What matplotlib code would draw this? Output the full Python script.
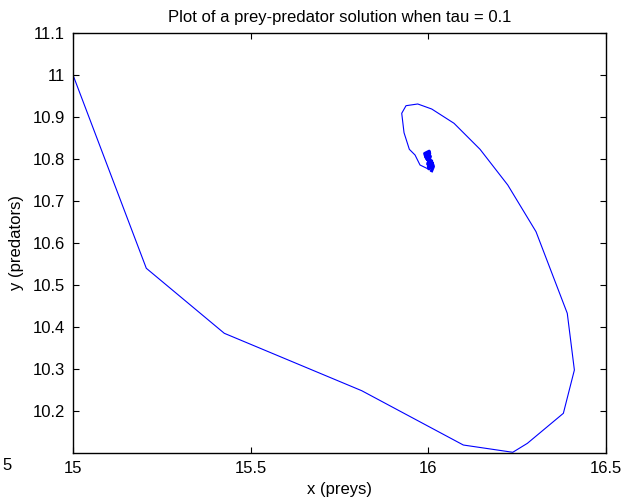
import matplotlib
matplotlib.use("Agg")
import matplotlib.pyplot as plt

# Trajectory of prey (x) and predators (y)
x_preys = [15.0, 15.2063, 15.4258, 15.8126, 16.0985, 16.2376, 16.2787, 16.380, 16.411,
           16.391, 16.303, 16.2235, 16.1455, 16.0723, 16.0096, 15.9702, 15.9372, 15.9251,
           15.9316, 15.9465, 15.9626, 15.9766, 16.0096]
y_predators = [11.0, 10.5398, 10.385, 10.2483, 10.119, 10.1017, 10.123, 10.1945, 10.2976,
               10.4326, 10.627, 10.7381, 10.8231, 10.885, 10.919, 10.931, 10.9269, 10.9088,
               10.8626, 10.8231, 10.8095, 10.7857, 10.7721]

# Dense oscillation near the equilibrium (the thick blob)
x_blob = [16.0096, 16.0144, 15.9896, 16.0025, 16.0015, 16.0130, 15.9910, 16.0038, 16.0001,
          16.0115, 15.9924, 16.0059, 15.9980, 16.0094, 15.9952, 16.0020]
y_blob = [10.7721, 10.7821, 10.8131, 10.8186, 10.7767, 10.7864, 10.8088, 10.8143, 10.7810,
          10.7907, 10.8045, 10.8062, 10.7879, 10.7955, 10.8005, 10.7964]

x_ticks = [15, 15.5, 16, 16.5]
x_tick_labels = ["15", "15.5", "16", "16.5"]
y_ticks = [10.2, 10.3, 10.4, 10.5, 10.6, 10.7, 10.8, 10.9, 11.0, 11.1]
y_tick_labels = ["10.2", "10.3", "10.4", "10.5", "10.6", "10.7", "10.8", "10.9", "11", "11.1"]

plt.rcParams['font.family'] = ['Liberation Sans', 'DejaVu Sans']

W, H = 636, 504
fig = plt.figure(figsize=(W / 100, H / 100), dpi=100)
left, right, top, bottom = 73, 606, 33, 453
ax = fig.add_axes([left / W, 1 - bottom / H, (right - left) / W, (bottom - top) / H])

ax.plot(x_preys, y_predators, color=(0, 0, 1), linewidth=0.8)
ax.plot(x_blob, y_blob, color=(0, 0, 1), linewidth=2.2, solid_joinstyle='round')
ax.set_xlim(15, 16.5)
ax.set_ylim(10.1, 11.1)
ax.set_xticks(x_ticks)
ax.set_xticklabels(x_tick_labels)
ax.set_yticks(y_ticks)
ax.set_yticklabels(y_tick_labels)
ax.tick_params(direction='in', length=4, width=0.8, top=True, right=True,
               labelsize=12, pad=6, colors='black')
for s in ax.spines.values():
    s.set_linewidth(1.0)

ax.set_title("Plot of a prey-predator solution when tau = 0.1", fontsize=12, pad=8)
ax.set_xlabel("x (preys)", fontsize=12, labelpad=4)
ax.set_ylabel("y (predators)", fontsize=12, labelpad=6)

# stray tick label at the far left edge, as in the reference
fig.text(7 / W, 1 - 466 / H, "5", fontsize=12, ha='center', va='center')

fig.savefig("out.png", dpi=100)
